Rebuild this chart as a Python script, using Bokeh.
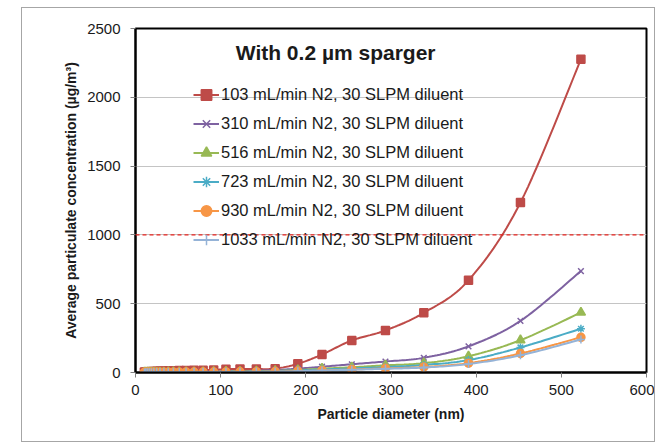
import numpy as np
from bokeh.plotting import figure
from bokeh.models import Legend, LegendItem, Span, Label, FixedTicker
from bokeh.embed import file_html
from bokeh.resources import INLINE

# ---------------- data ----------------
diameter_nm = [10.4, 12.0, 13.9, 16.1, 18.6, 21.5, 24.9, 28.8, 33.3, 38.5, 44.5,
               51.4, 59.4, 68.7, 79.4, 91.8, 106.2, 122.7, 141.9, 164.0, 190.6,
               219.0, 254.0, 293.5, 338.5, 391.0, 452.0, 523.0]

conc_103 = [3, 4, 5, 6, 7, 8, 9, 10, 11, 12, 13, 14, 15, 16, 17, 19, 24, 26, 25,
            28, 63, 131, 233, 306, 434, 670, 1235, 2276]
conc_310 = [1, 1, 2, 2, 2, 3, 3, 3, 4, 4, 4, 5, 5, 6, 6, 7, 8, 10, 13, 18, 28,
            42, 60, 80, 107, 190, 375, 737]
conc_516 = [1, 1, 1, 1, 2, 2, 2, 2, 2, 3, 3, 3, 3, 4, 4, 5, 6, 7, 9, 12, 18,
            28, 38, 52, 68, 118, 235, 436]
conc_723 = [1, 1, 1, 1, 1, 2, 2, 2, 2, 2, 3, 3, 3, 3, 4, 4, 5, 6, 7, 10, 15,
            22, 30, 40, 55, 90, 182, 318]
conc_930 = [1, 1, 1, 1, 1, 1, 2, 2, 2, 2, 2, 2, 3, 3, 3, 3, 4, 5, 6, 7, 10,
            15, 22, 30, 40, 68, 138, 256]
conc_1033 = [0, 1, 1, 1, 1, 1, 1, 2, 2, 2, 2, 2, 2, 3, 3, 3, 4, 4, 5, 6, 9,
             14, 20, 27, 36, 62, 125, 240]

series_labels = ["103 mL/min N2, 30 SLPM diluent",
                 "310 mL/min N2, 30 SLPM diluent",
                 "516 mL/min N2, 30 SLPM diluent",
                 "723 mL/min N2, 30 SLPM diluent",
                 "930 mL/min N2, 30 SLPM diluent",
                 "1033 mL/min N2, 30 SLPM diluent"]

x_ticks = [0, 100, 200, 300, 400, 500, 600]
y_ticks = [0, 500, 1000, 1500, 2000, 2500]
limit_value = 1000
chart_title = "With 0.2 µm sparger"
x_label = "Particle diameter (nm)"
y_label = "Average particulate concentration (µg/m³)"

# ---------------- styling ----------------
colors = ["#BE4B48", "#7E62A1", "#98B954", "#4BACC6", "#F79646", "#95B3D7"]
markers = ["square", "x", "triangle", "asterisk", "circle", "cross"]
msizes = [8, 8, 9, 8, 8, 8]
FONT = "Liberation Sans"

W_FRAME, H_FRAME = 511, 344


def smooth(xs, ys, n=16):
    """Excel-like smoothed line (Catmull-Rom) computed in pixel-scaled space."""
    sx = W_FRAME / 600.0
    sy = H_FRAME / 2500.0
    P = np.column_stack([np.asarray(xs, float) * sx, np.asarray(ys, float) * sy])
    P = np.vstack([P[0], P, P[-1]])
    out = []
    for i in range(1, len(P) - 2):
        p0, p1, p2, p3 = P[i - 1], P[i], P[i + 1], P[i + 2]
        t = np.linspace(0, 1, n, endpoint=False)[:, None]
        c = 0.5 * ((2 * p1) + (-p0 + p2) * t + (2 * p0 - 5 * p1 + 4 * p2 - p3) * t ** 2
                   + (-p0 + 3 * p1 - 3 * p2 + p3) * t ** 3)
        out.append(c)
    out.append(P[-2][None, :])
    out = np.vstack(out)
    return out[:, 0] / sx, out[:, 1] / sy


p = figure(width=634, height=435, x_range=(0, 600), y_range=(0, 2500),
           output_backend="svg", toolbar_location=None,
           min_border_left=113, min_border_right=10,
           min_border_top=20, min_border_bottom=71)
p.margin = (7, 0, 0, 21)
p.styles = {"border": "1px solid #a6a6a6"}

p.background_fill_color = "white"
p.border_fill_color = "white"
p.outline_line_color = "black"
p.outline_line_width = 2

p.xgrid.grid_line_color = None
p.ygrid.grid_line_color = "#c4c4c4"
p.ygrid.grid_line_width = 1

for ax in (p.xaxis, p.yaxis):
    ax.axis_line_color = "black"
    ax.axis_line_width = 2
    ax.major_tick_in = 0
    ax.major_tick_out = 5
    ax.major_tick_line_color = "#808080"
    ax.minor_tick_line_color = None
    ax.major_label_text_font = FONT
    ax.major_label_text_font_size = "15px"
    ax.major_label_text_color = "#1a1a1a"
    ax.axis_label_text_font = FONT
    ax.axis_label_text_font_size = "14px"
    ax.axis_label_text_font_style = "bold"
    ax.axis_label_text_color = "#1a1a1a"

p.xaxis.ticker = FixedTicker(ticks=x_ticks)
p.yaxis.ticker = FixedTicker(ticks=y_ticks)
p.xaxis.axis_label = x_label
p.yaxis.axis_label = y_label
p.xaxis.major_label_standoff = 7
p.yaxis.major_label_standoff = 10
p.xaxis.axis_label_standoff = 8
p.yaxis.axis_label_standoff = 5

p.add_layout(Span(location=limit_value, dimension="width", line_color="#E8231E",
                  line_dash="4 3", line_width=1.2))

all_series = [conc_103, conc_310, conc_516, conc_723, conc_930, conc_1033]
items = []
for ys, col, mk, ms, lab in zip(all_series, colors, markers, msizes, series_labels):
    sx_, sy_ = smooth(diameter_nm, ys)
    r_line = p.line(sx_, sy_, line_color=col, line_width=2)
    r_pts = p.scatter(diameter_nm, ys, marker=mk, size=ms, fill_color=col,
                      line_color=col, line_width=1.5)
    items.append(LegendItem(label=lab, renderers=[r_line, r_pts]))

legend = Legend(items=items, location=(58, 118), orientation="vertical",
                background_fill_alpha=0, border_line_color=None,
                padding=0, margin=0, spacing=0,
                glyph_width=26, glyph_height=29, label_height=29,
                label_standoff=2, label_text_font=FONT,
                label_text_font_size="16.5px", label_text_color="#1a1a1a")
p.add_layout(legend)

p.add_layout(Label(x=235, y=2322, text=chart_title, text_align="center",
                   text_baseline="middle", text_font=FONT, text_font_style="bold",
                   text_font_size="21px", text_color="#1a1a1a"))

open("out.html", "w").write(file_html(p, INLINE))
